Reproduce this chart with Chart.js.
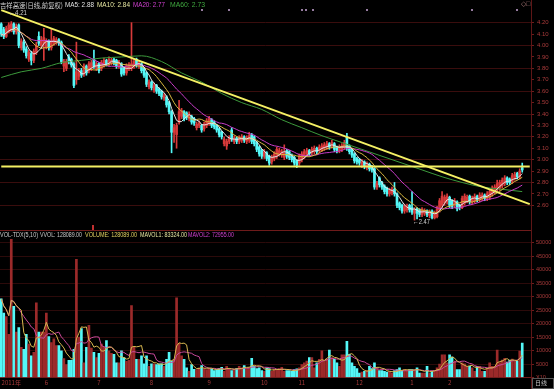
<!DOCTYPE html>
<html>
<head>
<meta charset="utf-8">
<script src="https://cdn.jsdelivr.net/npm/chart.js@4.4.0/dist/chart.umd.min.js"></script>
<style>
  body { margin: 0; background: #000; width: 554px; height: 389px; overflow: hidden; position: relative;
         font-family: "Liberation Sans", Arial, sans-serif; }
  canvas { position: absolute; left: 0; }
  #price { top: 8px; }
  #vol { top: 239px; }
  .t { position: absolute; font-size: 7px; line-height: 8px; white-space: nowrap; transform-origin: 0 0; }
  .cn { font-family: "Noto Sans CJK SC", sans-serif; }
  .dot { position: absolute; width: 2px; height: 2px; border-radius: 1px; background: #c9a6d6; top: 9px; }
  .ln { position: absolute; background: #5e1616; }
</style>
</head>
<body>
<canvas id="price" width="554" height="220"></canvas>
<canvas id="vol" width="554" height="150"></canvas>

<div class="ln" style="left:0;top:230px;width:531px;height:1px;background:#6e1b1b"></div>
<div class="ln" style="left:531px;top:0;width:1px;height:389px"></div>
<div class="ln" style="left:92px;top:225px;width:2px;height:5px;background:#c03030"></div>

<!-- price header -->
<span class="t cn" data-w="63" style="left:0;top:1px;color:#d0d0d0">吉祥高速(日线,前复权)</span>
<span class="t" data-w="29" style="left:65px;top:1px;color:#e0e0e0">MA5: 2.88</span>
<span class="t" data-w="33" style="left:97px;top:1px;color:#e6e6a0">MA10: 2.84</span>
<span class="t" data-w="32" style="left:133px;top:1px;color:#d040d0">MA20: 2.77</span>
<span class="t" data-w="35" style="left:170px;top:1px;color:#3fa83f">MA60: 2.73</span>
<span class="t" style="left:521px;top:0;color:#a07070">◇□</span>
<span class="t" data-w="18" style="left:9px;top:9px;color:#d0d0d0">←4.21</span>
<span class="t" data-w="17" style="left:413px;top:218px;color:#d0d0d0">←2.47</span>
<div class="dot" style="left:201px"></div><div class="dot" style="left:228px"></div>
<div class="dot" style="left:301px"></div><div class="dot" style="left:305px"></div>
<div class="dot" style="left:312px"></div><div class="dot" style="left:366px"></div>
<div class="dot" style="left:471px"></div><div class="dot" style="left:516px"></div>

<!-- volume header -->
<span class="t" data-w="38" style="left:0;top:231px;color:#c8c8c8">VOL-TDX(5,10)</span>
<span class="t" data-w="42" style="left:40px;top:231px;color:#c8c8c8">VVOL: 128089.00</span>
<span class="t" data-w="52" style="left:85px;top:231px;color:#e0d060">VOLUME: 128089.00</span>
<span class="t" data-w="47" style="left:140px;top:231px;color:#e6e6a0">MAVOL1: 83324.00</span>
<span class="t" data-w="46" style="left:188px;top:231px;color:#d040d0">MAVOL2: 72955.00</span>

<div style="position:absolute;left:532px;top:378px;width:20px;height:9px;border:1px solid #555"></div>
<span class="t cn" style="left:535px;top:379px;color:#c0c0c0;font-size:6px">日线</span>

<script>
// daily candles, index 0 = early May 2011, last = mid March 2012
const opens = [
  4.19,4.14,4.08,4.12,4.14,4.19,4.12,4.18,3.98,4.03,
  3.97,3.88,3.93,3.87,3.94,4.08,4.00,4.02,3.99,4.04,
  3.98,4.02,4.03,4.05,4.03,3.82,3.80,3.90,3.88,3.84,
  3.70,3.73,3.78,3.75,3.82,3.78,3.80,3.88,3.80,3.84,
  3.80,3.83,3.87,3.84,3.85,3.88,3.87,3.82,3.84,3.80,
  3.76,3.80,3.80,3.82,3.88,3.82,3.84,3.80,3.76,3.64,
  3.68,3.61,3.65,3.62,3.60,3.54,3.55,3.50,3.42,3.24,
  3.22,3.33,3.38,3.42,3.41,3.36,3.38,3.36,3.28,3.30,
  3.30,3.27,3.30,3.32,3.35,3.33,3.30,3.27,3.24,3.14,
  3.12,3.16,3.26,3.16,3.19,3.16,3.17,3.20,3.16,3.17,
  3.22,3.20,3.15,3.11,3.08,3.03,3.06,3.03,2.98,3.01,
  3.03,3.05,3.04,3.02,3.08,3.07,3.04,3.02,2.99,2.97,
  3.00,3.03,3.05,3.08,3.06,3.07,3.10,3.08,3.09,3.10,
  3.11,3.14,3.12,3.14,3.11,3.08,3.09,3.11,3.20,3.12,
  3.09,3.05,3.01,3.00,2.95,2.98,2.93,2.96,2.94,2.92,
  2.76,2.84,2.80,2.77,2.75,2.70,2.71,2.74,2.70,2.62,
  2.60,2.55,2.56,2.60,2.58,2.53,2.57,2.56,2.52,2.53,
  2.55,2.51,2.55,2.49,2.50,2.56,2.60,2.62,2.63,2.67,
  2.64,2.60,2.63,2.60,2.58,2.62,2.64,2.68,2.63,2.64,
  2.68,2.65,2.66,2.69,2.66,2.67,2.70,2.72,2.74,2.75,
  2.77,2.79,2.84,2.83,2.81,2.84,2.88,2.85,2.93
];
const closes = [
  4.10,4.08,4.15,4.18,4.19,4.12,4.17,4.00,4.04,3.96,
  3.91,3.94,3.87,3.95,4.00,4.02,4.05,4.07,4.04,3.98,
  4.04,4.06,4.05,4.02,3.86,3.86,3.86,3.86,3.83,3.65,
  3.77,3.78,3.74,3.82,3.76,3.84,3.85,3.82,3.84,3.78,
  3.85,3.87,3.84,3.88,3.87,3.85,3.82,3.85,3.75,3.76,
  3.82,3.83,3.84,3.86,3.83,3.85,3.78,3.74,3.66,3.68,
  3.63,3.65,3.60,3.58,3.55,3.56,3.48,3.42,3.24,3.28,
  3.30,3.42,3.43,3.36,3.37,3.40,3.33,3.32,3.31,3.32,
  3.26,3.31,3.34,3.36,3.30,3.29,3.26,3.22,3.20,3.18,
  3.16,3.19,3.18,3.19,3.16,3.19,3.20,3.17,3.19,3.21,
  3.16,3.14,3.09,3.05,3.03,3.07,3.01,2.97,3.02,3.05,
  3.09,3.08,3.07,3.06,3.03,3.02,3.00,2.97,2.95,3.03,
  3.05,3.07,3.08,3.05,3.09,3.10,3.07,3.11,3.12,3.13,
  3.14,3.11,3.15,3.09,3.08,3.11,3.12,3.15,3.10,3.07,
  3.04,2.99,2.98,2.97,2.98,2.94,2.96,2.92,2.91,2.76,
  2.79,2.78,2.76,2.72,2.70,2.73,2.74,2.70,2.60,2.58,
  2.55,2.59,2.59,2.56,2.54,2.56,2.53,2.52,2.56,2.55,
  2.52,2.54,2.49,2.53,2.57,2.64,2.68,2.67,2.68,2.60,
  2.59,2.64,2.57,2.58,2.66,2.68,2.67,2.63,2.66,2.68,
  2.65,2.69,2.69,2.66,2.70,2.72,2.75,2.76,2.79,2.80,
  2.82,2.84,2.80,2.80,2.86,2.87,2.85,2.90,2.91
];
const highs = [
  4.20,4.16,4.17,4.20,4.21,4.20,4.19,4.19,4.06,4.05,
  3.99,3.96,3.95,3.97,4.03,4.12,4.08,4.15,4.06,4.05,
  4.15,4.08,4.07,4.06,4.04,3.88,3.88,3.92,3.89,3.85,
  4.03,3.80,3.80,3.84,3.83,3.86,3.87,3.96,3.86,3.85,
  3.87,3.89,3.88,3.90,3.89,3.89,3.88,3.87,3.85,3.81,
  3.84,3.85,4.20,3.88,3.89,3.87,3.85,3.81,3.77,3.70,
  3.69,3.67,3.66,3.63,3.61,3.58,3.56,3.51,3.43,3.31,
  3.32,3.52,3.45,3.43,3.42,3.42,3.39,3.37,3.33,3.34,
  3.31,3.33,3.36,3.38,3.36,3.34,3.31,3.28,3.25,3.20,
  3.18,3.21,3.28,3.21,3.20,3.21,3.22,3.21,3.21,3.24,
  3.23,3.21,3.16,3.12,3.09,3.09,3.07,3.04,3.04,3.07,
  3.11,3.10,3.09,3.13,3.09,3.08,3.05,3.03,3.00,3.05,
  3.07,3.09,3.10,3.09,3.11,3.12,3.11,3.13,3.14,3.15,
  3.16,3.15,3.17,3.15,3.12,3.13,3.14,3.17,3.23,3.13,
  3.10,3.06,3.02,3.01,3.00,2.99,2.98,2.97,2.95,2.93,
  2.81,2.85,2.81,2.78,2.76,2.75,2.76,2.80,2.71,2.63,
  2.61,2.61,2.61,2.61,2.72,2.58,2.58,2.57,2.58,2.57,
  2.56,2.56,2.56,2.55,2.59,2.66,2.72,2.69,2.70,2.68,
  2.65,2.66,2.64,2.61,2.68,2.70,2.69,2.69,2.68,2.70,
  2.69,2.71,2.71,2.70,2.72,2.74,2.77,2.78,2.82,2.82,
  2.84,2.86,2.85,2.84,2.88,2.89,2.89,2.92,2.97
];
const lows = [
  4.08,4.06,4.07,4.11,4.12,4.10,4.10,3.98,3.96,3.94,
  3.89,3.86,3.83,3.85,3.92,4.00,3.98,3.87,3.97,3.96,
  3.96,4.00,4.01,4.00,3.84,3.77,3.78,3.84,3.81,3.63,
  3.66,3.70,3.72,3.73,3.74,3.76,3.78,3.80,3.78,3.76,
  3.78,3.81,3.82,3.82,3.83,3.83,3.80,3.80,3.73,3.74,
  3.74,3.78,3.78,3.80,3.81,3.80,3.76,3.72,3.64,3.62,
  3.61,3.59,3.58,3.56,3.53,3.52,3.46,3.40,3.06,3.15,
  3.10,3.31,3.36,3.34,3.35,3.34,3.31,3.30,3.26,3.28,
  3.24,3.25,3.28,3.30,3.28,3.27,3.24,3.20,3.18,3.12,
  3.09,3.14,3.16,3.14,3.14,3.14,3.15,3.15,3.14,3.15,
  3.14,3.12,3.07,3.03,3.01,3.01,2.99,2.95,2.96,2.99,
  3.01,3.03,3.02,3.00,3.01,3.00,2.98,2.95,2.93,2.95,
  2.98,3.01,3.03,3.03,3.04,3.05,3.05,3.06,3.07,3.08,
  3.09,3.09,3.10,3.07,3.06,3.06,3.07,3.09,3.08,3.05,
  3.02,2.97,2.96,2.95,2.93,2.92,2.91,2.90,2.89,2.74,
  2.74,2.76,2.74,2.70,2.68,2.68,2.69,2.68,2.58,2.56,
  2.53,2.53,2.54,2.54,2.52,2.47,2.48,2.50,2.50,2.51,
  2.50,2.49,2.48,2.48,2.49,2.54,2.58,2.60,2.61,2.58,
  2.57,2.58,2.55,2.56,2.57,2.60,2.62,2.61,2.61,2.62,
  2.63,2.63,2.64,2.64,2.64,2.65,2.68,2.70,2.72,2.73,
  2.75,2.77,2.78,2.78,2.79,2.82,2.83,2.83,2.89
];
// volume in axis units (x10)
const volumes = [
  29200,23900,22600,16000,51500,26400,16900,18500,11200,10500,
  16000,12400,8000,9300,27700,16900,16900,16900,23900,15200,
  13000,14350,11800,11800,9900,7000,4800,6350,6350,10500,
  43900,15000,18200,5460,11200,19400,10900,9300,7370,9000,
  12400,11200,13700,9900,9000,8640,5460,5460,9900,7370,
  6000,6350,26700,11200,6730,6730,8000,5080,8000,4190,
  5080,5080,4800,5080,5080,4190,6730,9300,6100,6730,
  29600,12700,8000,6730,3560,2290,4800,3000,2920,3560,
  4450,3300,2920,3300,3300,2540,2920,3300,3810,2290,
  4190,3300,2540,2920,3300,4190,3560,4450,3300,3560,
  7110,4190,3300,3560,2540,2290,3560,3300,2290,2920,
  3000,3300,3810,2290,2600,2540,2290,2920,3200,3560,
  4800,5460,6100,7370,7370,3560,5460,6730,9900,6100,
  7000,10160,7370,6730,5460,4190,8380,8380,13460,8640,
  5460,4190,3300,1650,2000,2290,2540,4190,3300,5460,
  3300,2540,2540,2290,2000,2290,1650,2540,2920,3560,
  2600,2920,2290,2920,2920,2920,3560,1650,1650,1650,
  4190,1650,2290,2540,3560,5000,8380,8380,5460,8380,
  7620,6100,2920,2920,5460,5080,4190,4190,3560,2290,
  4190,4190,2290,2290,3500,5460,4190,4190,10160,5500,
  6500,7100,5700,6500,6800,6100,6100,9800,12809
];
// MA60 at every 8th candle
const ma60Idx = [0,8,16,24,32,40,48,56,64,72,80,88,96,104,112,120,128,136,144,152,160,168,176,184,192,200,208];
const ma60Val = [3.72,3.77,3.80,3.85,3.87,3.89,3.90,3.91,3.86,3.76,3.68,3.58,3.50,3.44,3.35,3.28,3.21,3.15,3.09,3.03,2.97,2.91,2.85,2.80,2.76,2.74,2.72];
// drawn lines: falling trend line (left end, right end) and horizontal resistance
const trendEnds = [4.31, 2.61];
const resistance = 2.94;

const priceTicks = [2.6,2.7,2.8,2.9,3.0,3.1,3.2,3.3,3.4,3.5,3.6,3.7,3.8,3.9,4.0,4.1,4.2];
const volTicks = [0,5000,10000,15000,20000,25000,30000,35000,40000,45000,50000];
const monthIdx = [4,18,39,60,83,105,120,143,164,179];
const monthText = ['2011年','6','7','8','9','10','11','12','1','2'];

// squeeze header texts to the widths they have in the picture
document.querySelectorAll('[data-w]').forEach(el => {
  el.style.transform = 'scaleX(' + (el.dataset.w / el.getBoundingClientRect().width) + ')';
});

const SLOTS = 212;
const labels = Array.from({length: SLOTS}, (_, i) => i);
const UP = '#d83a3a', DOWN = '#54f8f8';
const colors = closes.map((c, i) => c >= opens[i] ? UP : DOWN);
const volColors = closes.map((c, i) => c >= opens[i] ? '#9c2a2a' : DOWN);

function avg(src, n) {
  return src.map((_, i) => {
    const s = src.slice(Math.max(0, i - n + 1), i + 1);
    return s.reduce((a, b) => a + b, 0) / s.length;
  });
}
function sparse(idx, vals) {
  const a = new Array(SLOTS).fill(null);
  idx.forEach((k, j) => { a[k] = vals[j]; });
  return a;
}

const lineDs = (data, color, width, extra) => Object.assign({
  type: 'line', data, borderColor: color, borderWidth: width, pointRadius: 0, fill: false, order: 1
}, extra || {});

const axisRed = '#a83a3a';
const common = {
  responsive: false, animation: false, events: [],
  plugins: { legend: { display: false }, tooltip: { enabled: false } },
  layout: { padding: 0 }
};

new Chart(document.getElementById('price'), {
  type: 'bar',
  data: {
    labels,
    datasets: [
      lineDs(sparse([0, SLOTS - 1], trendEnds), '#f4f064', 2, { spanGaps: true, order: 0 }),
      lineDs(sparse([0, SLOTS - 1], [resistance, resistance]), '#f4f064', 2, { spanGaps: true, order: 0 }),
      lineDs(avg(closes, 5), '#e6e6e6', 1),
      lineDs(avg(closes, 10), '#d8b840', 1),
      lineDs(avg(closes, 20), '#c83cc8', 1),
      lineDs(sparse(ma60Idx, ma60Val), '#3c9a3c', 1, { spanGaps: true, cubicInterpolationMode: 'monotone' }),
      { label: 'body', data: opens.map((o, i) => [o, closes[i]]), backgroundColor: colors,
        barThickness: 2, grouped: false, minBarLength: 1, order: 5 },
      { label: 'wick', data: lows.map((l, i) => [l, highs[i]]), backgroundColor: colors,
        barThickness: 1, grouped: false, order: 6 }
    ]
  },
  options: Object.assign({}, common, {
    scales: {
      x: { display: false, offset: true },
      y: {
        position: 'right', min: 2.401, max: 4.329,
        afterBuildTicks: s => { s.ticks = priceTicks.map(v => ({ value: v })); },
        afterFit: s => { s.width = 23; s.paddingTop = 0; s.paddingBottom = 0; },
        ticks: { color: axisRed, font: { size: 6 }, padding: 3, callback: v => v.toFixed(2) },
        grid: {
          color: c => Math.round(c.tick.value * 10) % 2 === 0 ? '#3a0d0d' : 'rgba(0,0,0,0)',
          tickColor: '#6e1b1b', tickLength: 3
        },
        border: { color: '#5e1616' }
      }
    }
  })
});

new Chart(document.getElementById('vol'), {
  type: 'bar',
  data: {
    labels,
    datasets: [
      lineDs(avg(volumes, 5), '#d8b850', 1),
      lineDs(avg(volumes, 10), '#c8489a', 1),
      { label: 'vol', data: volumes, backgroundColor: volColors, barThickness: 2, grouped: false, order: 5 }
    ]
  },
  options: Object.assign({}, common, {
    scales: {
      x: {
        offset: true,
        afterFit: s => { s.height = 11.5; s.paddingLeft = 0; s.paddingRight = 0; },
        grid: { display: false, drawTicks: false },
        border: { color: '#6e1b1b' },
        ticks: {
          autoSkip: false, maxRotation: 0, padding: 2, color: axisRed,
          font: { size: 6, family: '"Noto Sans CJK SC", "Liberation Sans", sans-serif' },
          callback: (v, i) => { const k = monthIdx.indexOf(i); return k >= 0 ? monthText[k] : ''; }
        }
      },
      y: {
        position: 'right', min: 0, max: 51400,
        afterBuildTicks: s => { s.ticks = volTicks.map(v => ({ value: v })); },
        afterFit: s => { s.width = 23; s.paddingTop = 0; s.paddingBottom = 0; },
        ticks: { color: axisRed, font: { size: 5.5 }, padding: 2, callback: v => v === 0 ? 'X10' : String(v) },
        grid: { color: '#2c0a0a', tickColor: '#6e1b1b', tickLength: 3 },
        border: { color: '#5e1616' }
      }
    }
  })
});
</script>
</body>
</html>
